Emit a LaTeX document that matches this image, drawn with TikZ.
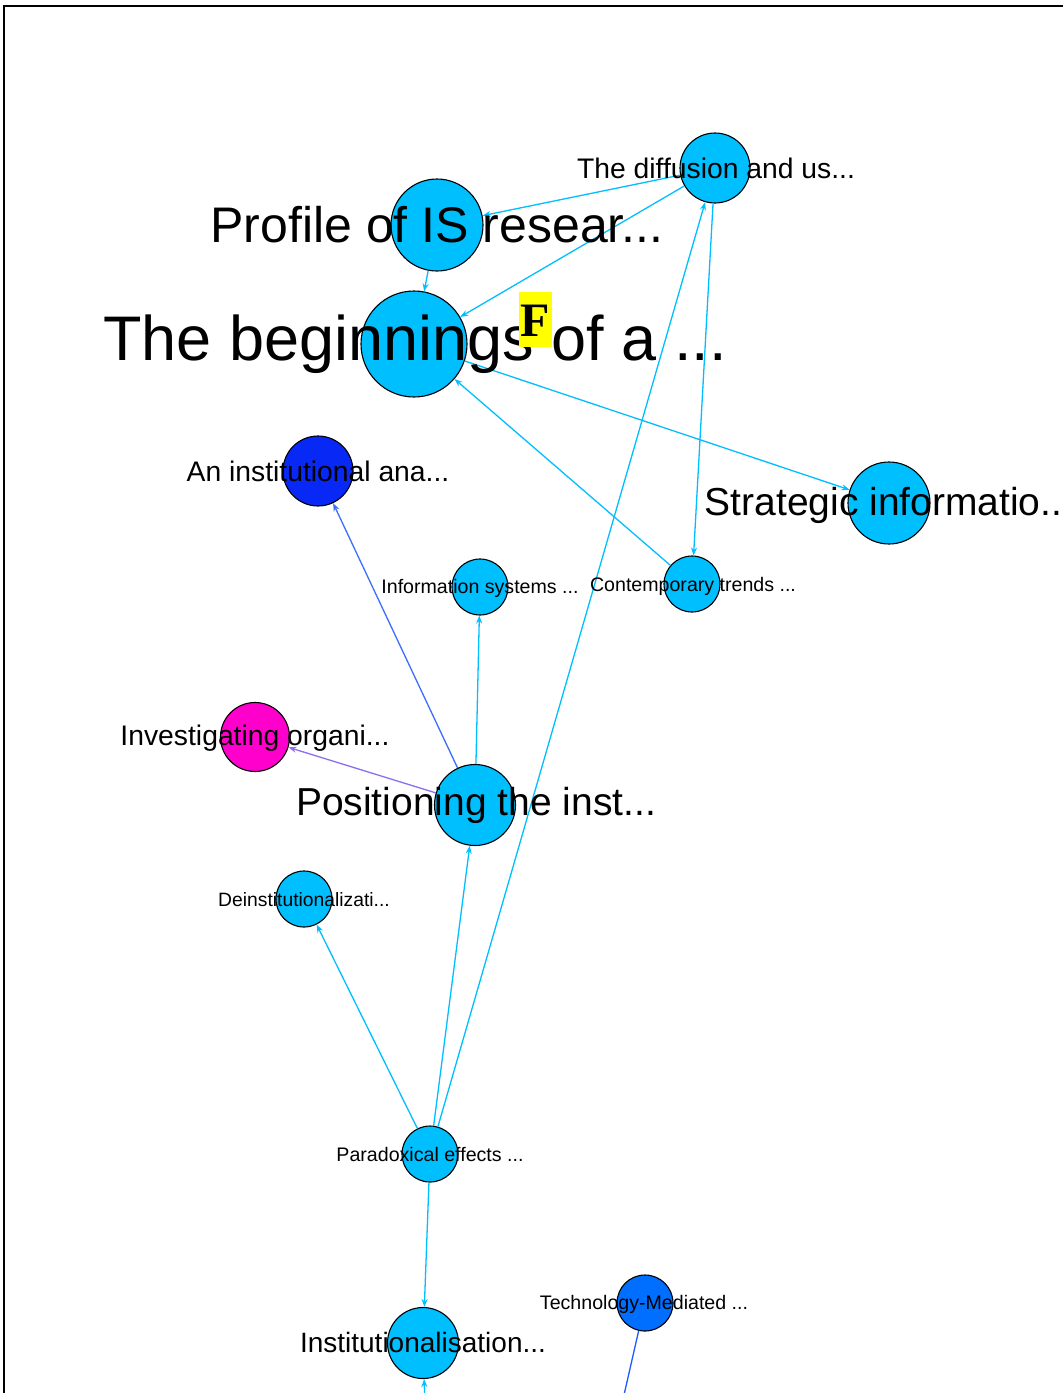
\documentclass[tikz,border=0pt]{standalone}
\usepackage{fontspec}
\setmainfont{Liberation Sans}
\newfontfamily\markfont{Liberation Serif}
\usetikzlibrary{arrows.meta}

\definecolor{vcyan}{RGB}{0,191,255}
\definecolor{vdeep}{RGB}{8,40,245}
\definecolor{vmagenta}{RGB}{255,0,204}
\definecolor{vblue}{RGB}{0,110,255}
\definecolor{ecyan}{RGB}{0,191,255}
\definecolor{eblue}{RGB}{60,110,255}
\definecolor{epurple}{RGB}{140,110,240}
\definecolor{etech}{RGB}{30,90,255}
\definecolor{markyellow}{RGB}{255,255,0}

\begin{document}
\begin{tikzpicture}[x=1pt,y=-1pt,
  vtx/.style={circle, draw=black, line width=1.1pt, inner sep=0pt, fill=vcyan, minimum size=#1},
  link/.style={draw=ecyan, line width=1.3pt, -{Stealth[length=8pt,width=6pt]}},
  lbl/.style={anchor=base, inner sep=0pt, text=black, font=\fontsize{#1pt}{#1pt}\selectfont}]

\useasboundingbox (0,0) rectangle (1063,1393);
\fill[white] (0,0) rectangle (1063,1393);

% page frame
\draw[line width=2pt] (3.5,1400) -- (3.5,5.5) -- (1070,5.5);

% vertices
\node[vtx=92pt]  (prof)    at (437,225)  {};
\node[vtx=106pt] (begin)   at (414,344)  {};
\node[vtx=70pt]  (diff)    at (715,168)  {};
\node[vtx=70pt, fill=vdeep] (inst) at (318,471) {};
\node[vtx=82pt]  (strat)   at (889,503)  {};
\node[vtx=56pt]  (infsys)  at (480,587)  {};
\node[vtx=56pt]  (contemp) at (692,584)  {};
\node[vtx=69pt, fill=vmagenta] (invest) at (255,737) {};
\node[vtx=81pt]  (posit)   at (475,805)  {};
\node[vtx=56pt]  (deinst)  at (304,899)  {};
\node[vtx=56pt]  (parad)   at (430,1154) {};
\node[vtx=71pt]  (instit)  at (423,1343) {};
\node[vtx=56pt, fill=vblue] (tech) at (645,1303) {};

% vertices continuing below the page
\coordinate (belowA) at (426,1440);
\coordinate (belowB) at (616,1430);

% links
\draw[link] (prof) -- (begin);
\draw[link] (diff) -- (prof);
\draw[link] (diff) -- (begin);
\draw[link] (diff) -- (contemp);
\draw[link] (parad) -- (diff);
\draw[link] (begin) -- (strat);
\draw[link] (contemp) -- (begin);
\draw[link, draw=eblue] (posit) -- (inst);
\draw[link] (posit) -- (infsys);
\draw[link, draw=epurple] (posit) -- (invest);
\draw[link] (parad) -- (posit);
\draw[link] (parad) -- (deinst);
\draw[link] (parad) -- (instit);
\draw[link] (belowA) -- (instit);
\draw[draw=etech, line width=1.3pt] (tech) -- (belowB);

% labels
\node[lbl=50]   (prof-l)    at (437,242)  {Profile of IS resear...};
\node[lbl=63]   (begin-l)   at (415,360)  {The beginnings of a ...};
\node[lbl=28.3] (diff-l)    at (716,178)  {The diffusion and us...};
\node[lbl=28.3] (inst-l)    at (318,481)  {An institutional ana...};
\node[lbl=39]   (strat-l)   at (889,515)  {Strategic informatio...};
\node[lbl=19.6] (infsys-l)  at (480,593)  {Information systems ...};
\node[lbl=19.6] (contemp-l) at (693,591)  {Contemporary trends ...};
\node[lbl=28.3] (invest-l)  at (255,745)  {Investigating organi...};
\node[lbl=39]   (posit-l)   at (476,815)  {Positioning the inst...};
\node[lbl=19.3] (deinst-l)  at (304,906)  {Deinstitutionalizati...};
\node[lbl=19.6] (parad-l)   at (430,1161) {Paradoxical effects ...};
\node[lbl=28]   (instit-l)  at (423,1352) {Institutionalisation...};
\node[lbl=19.6] (tech-l)    at (644,1309) {Technology-Mediated ...};

% note marker
\node[fill=markyellow, inner sep=0pt, minimum width=33pt, minimum height=55pt] (mark) at (535,319) {};
\node[anchor=base, inner sep=0pt, font=\markfont\bfseries\fontsize{48pt}{48pt}\selectfont] (mark-l) at (535,336) {F};
\end{tikzpicture}
\end{document}
